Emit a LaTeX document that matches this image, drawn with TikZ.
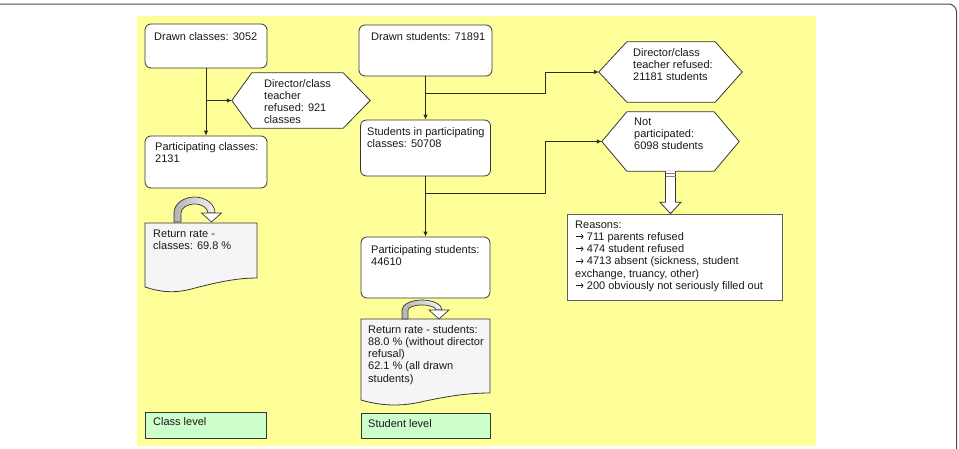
\documentclass[tikz,border=0pt]{standalone}
\usepackage{fontspec}
\setmainfont{Liberation Sans}
\usetikzlibrary{arrows.meta,calc}
\definecolor{bgy}{RGB}{255,255,153}
\definecolor{lgreen}{RGB}{204,255,204}
\definecolor{docfill}{RGB}{245,245,247}
\definecolor{edge}{RGB}{55,55,50}
\definecolor{conn}{RGB}{45,45,25}
\newcommand{\mytxt}[1]{\parbox[t]{250pt}{\fontsize{11}{12.3}\selectfont\raggedright #1}}
\newcommand{\myarr}{\tikz[x=1pt,y=1pt,baseline=0pt]{\draw[black!90,line width=0.7pt,-{To[length=2.6pt,width=5pt]}] (0,3.8) -- (8,3.8);}}
\begin{document}
\begin{tikzpicture}[x=1pt,y=-1pt,
 rbox/.style={draw=edge, line width=0.8pt, fill=white, rounded corners=6pt, inner sep=0pt},
 gbox/.style={draw=edge, line width=0.8pt, fill=lgreen, inner sep=0pt},
 sbox/.style={draw=edge!80, line width=0.8pt, fill=white, inner sep=0pt},
 hexbox/.style={inner sep=0pt},
 hexline/.style={draw=edge, line width=0.8pt, fill=white},
 docline/.style={draw=edge, line width=0.8pt, fill=docfill},
 lbl/.style={anchor=base west, inner sep=0pt, text=black!90},
 conn/.style={draw=conn, line width=0.8pt},
 arr/.style={conn, -{Latex[length=5pt,width=4.5pt]}},
 hollowarr/.style={draw=edge, line width=0.8pt, fill=white},
 band/.style={draw=edge, line width=0.7pt, left color=gray!60, right color=gray!8},
 head/.style={draw=edge, line width=0.7pt, fill=white}
]
\useasboundingbox (0,0) rectangle (959,448);
\draw[black!70, line width=1pt, rounded corners=8pt] (-20,4) rectangle (956.5,470);
\fill[bgy] (137,16) rectangle (816,446);

% class level
\node[rbox, minimum width=122pt, minimum height=44pt] (dc) at (206,46) {};
\node[lbl] (dct) at (154,40.5) {\mytxt{Drawn classes: 3052}};
\node[rbox, minimum width=122pt, minimum height=52pt] (pc) at (206,162) {};
\node[lbl] (pct) at (155,150.5) {\mytxt{Participating classes:\\2131}};
\node[hexbox, minimum width=138pt, minimum height=55pt] (h1) at (301,100.5) {};
\path[hexline] (h1.west) -- ([xshift=20pt]h1.north west) -- ([xshift=-27pt]h1.north east) -- (h1.east) -- ([xshift=-27pt]h1.south east) -- ([xshift=20pt]h1.south west) -- cycle;
\node[lbl] (h1t) at (264,87) {\mytxt{Director/class\\teacher\\refused: 921\\classes}};
\draw[arr] (dc.south) -- (pc.north);
\draw[arr] (dc.south |- h1.west) -- (h1.west);

% return rate classes
\path[docline] (145,223) -- (257,223) -- (257,278) .. controls (235,278) and (215,283) .. (195,288) .. controls (175,294) and (160,292) .. (145,287) -- cycle;
\node[lbl] (rct) at (153,237) {\mytxt{Return rate -\\classes: 69.8 \%}};
\path[band] (174,222) -- (174,213) arc[start angle=180, end angle=0, x radius=20.5pt, y radius=16pt] -- (208,213) arc[start angle=0, end angle=180, x radius=13.5pt, y radius=9pt] -- (181,222) -- cycle;
\path[head] (201.5,213) -- (221.5,213) -- (211.5,222) -- cycle;

\node[gbox, minimum width=121pt, minimum height=26pt] (cl) at (205.5,425) {};
\node[lbl] (clt) at (153,425.5) {\mytxt{Class level}};

% student level
\node[rbox, minimum width=133pt, minimum height=51pt] (ds) at (425.5,50.5) {};
\node[lbl] (dst) at (371,40.5) {\mytxt{Drawn students: 71891}};
\node[rbox, minimum width=130pt, minimum height=56pt] (sp) at (425.5,148) {};
\node[lbl] (spt) at (367,135) {\mytxt{Students in participating\\classes: 50708}};
\node[rbox, minimum width=129pt, minimum height=61pt] (ps) at (425.5,267.5) {};
\node[lbl] (pst) at (371,253) {\mytxt{Participating students:\\44610}};

\node[hexbox, minimum width=143pt, minimum height=60pt] (h2) at (670.5,72) {};
\path[hexline] (h2.west) -- ([xshift=28pt]h2.north west) -- ([xshift=-27pt]h2.north east) -- (h2.east) -- ([xshift=-27pt]h2.south east) -- ([xshift=28pt]h2.south west) -- cycle;
\node[lbl] (h2t) at (633,56) {\mytxt{Director/class\\teacher refused:\\21181 students}};

\node[hexbox, minimum width=137pt, minimum height=59pt] (h3) at (670.5,141.5) {};
\path[hexline] (h3.west) -- ([xshift=25pt]h3.north west) -- ([xshift=-25pt]h3.north east) -- (h3.east) -- ([xshift=-25pt]h3.south east) -- ([xshift=25pt]h3.south west) -- cycle;
\node[lbl] (h3t) at (634,125) {\mytxt{Not\\participated:\\6098 students}};

\node[sbox, minimum width=215pt, minimum height=86pt] (rs) at (674.5,257) {};
\node[lbl] (rst) at (575,228) {\mytxt{Reasons:\\\myarr{} 711 parents refused\\\myarr{} 474 student refused\\\myarr{} 4713 absent (sickness, student\\exchange, truancy, other)\\\myarr{} 200 obviously not seriously filled out}};

\draw[arr] (ds.south) -- (sp.north);
\coordinate (k1) at (545,93);
\draw[arr] (ds.south |- k1) -- (k1) |- (h2.west);
\draw[arr] (sp.south) -- (ps.north);
\coordinate (k2) at (545,193);
\draw[arr] (sp.south |- k2) -- (k2) |- (h3.west);

\path[hollowarr] ($(h3.south)+(-5,0)$) -- ($(h3.south)+(-5,31)$) -- ($(h3.south)+(-10.5,31)$) -- (h3.south |- rs.north) -- ($(h3.south)+(10.5,31)$) -- ($(h3.south)+(5,31)$) -- ($(h3.south)+(5,0)$);
\draw[gray, line width=0.8pt] ($(h3.south)+(-5,2.5)$) -- ++(10,0);
\draw[gray, line width=0.8pt] ($(h3.south)+(-5,5.5)$) -- ++(10,0);

% return rate students
\path[docline] (361,319) -- (490,319) -- (490,393) .. controls (465,393) and (445,397) .. (425,401) .. controls (405,406) and (385,407) .. (361,400) -- cycle;
\node[lbl] (rstu) at (368,333) {\mytxt{Return rate - students:\\88.0 \% (without director\\refusal)\\62.1 \% (all drawn\\students)}};
\path[band] (402,319) -- (402,310) arc[start angle=180, end angle=0, x radius=20pt, y radius=10pt] -- (436,310) arc[start angle=0, end angle=180, x radius=14pt, y radius=5pt] -- (408,319) -- cycle;
\path[head] (429,310) -- (449,310) -- (439,319) -- cycle;

\node[gbox, minimum width=129pt, minimum height=25pt] (sl) at (425.5,425.5) {};
\node[lbl] (slt) at (368,427) {\mytxt{Student level}};
\end{tikzpicture}
\end{document}
